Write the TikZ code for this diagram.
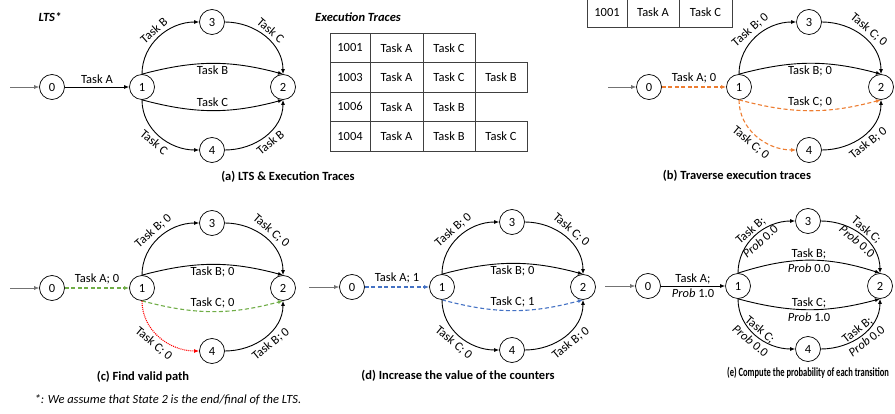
\documentclass[tikz,border=0pt]{standalone}
\usepackage{fontspec}
\setmainfont{Carlito}
\usetikzlibrary{arrows.meta}
\definecolor{traceorange}{HTML}{ED7D31}
\definecolor{validgreen}{HTML}{70AD47}
\definecolor{countblue}{HTML}{4472C4}
\newcommand{\labfont}{\fontsize{12.5}{15}\selectfont}

\begin{document}
\begin{tikzpicture}[x=1pt, y=1pt, font=\labfont,
        >={Latex[length=5pt, width=4pt]},
        state/.style={circle, draw, line width=0.7pt, minimum size=25pt, inner sep=0pt},
        trans/.style={line width=0.9pt},
        initarrow/.style={draw=black!55, line width=0.6pt},
        cell/.style={draw=black!75, line width=0.7pt, minimum height=29.5pt, inner sep=0pt},
        subcap/.style={font=\labfont\bfseries},
        tracepath/.style={trans, line width=1.1pt, draw=traceorange, dash pattern=on 4pt off 2.5pt},
        validpath/.style={trans, line width=1.1pt, draw=validgreen, dash pattern=on 4pt off 2.5pt},
        invalidpath/.style={trans, line width=1.1pt, draw=red, dash pattern=on 1pt off 1pt},
        countpath/.style={trans, line width=1.1pt, draw=countblue, dash pattern=on 4pt off 2.5pt}]
    \useasboundingbox (0, 0) rectangle (895, -414);

    % (a) LTS & Execution Traces
    \path (50, -17)   node[font=\labfont\bfseries\itshape] (lts) {LTS*};
    \path (358, -17)  node[font=\labfont\bfseries\itshape] (traces) {Execution Traces};
    \coordinate (ain) at (10, -87);
    \path (52, -87)   node[state] (a0) {0};
    \path (142, -87)  node[state] (a1) {1};
    \path (212, -22)  node[state] (a3) {3};
    \path (283, -87)  node[state] (a2) {2};
    \path (212, -150) node[state] (a4) {4};

    \draw[->, initarrow] (ain) -- (a0);
    \draw[->, trans] (a0) -- node[above] {Task A} (a1);
    \draw[->, trans] (a1.north) to[out=90, in=180] node[sloped, above] {Task B} (a3.west);
    \draw[->, trans] (a3.east) to[out=0, in=90] node[sloped, above] {Task C} (a2.north);
    \draw[->, trans] (a1.north) to[bend left=15] node[below, inner sep=1.5pt] {Task B} (a2.north);
    \draw[->, trans] (a1.south) to[bend right=15] node[above] {Task C} (a2.south);
    \draw[->, trans] (a1.south) to[out=-90, in=180] node[sloped, below] {Task C} (a4.west);
    \draw[->, trans] (a4.east) to[out=0, in=-90] node[sloped, below] {Task B} (a2.south);

    \path (350, -47.75)   node[cell, minimum width=40pt] (r1c1) {1001};
    \path (396.5, -47.75) node[cell, minimum width=53pt] (r1c2) {Task A};
    \path (449, -47.75)   node[cell, minimum width=52pt] (r1c3) {Task C};
    \path (350, -77.25)   node[cell, minimum width=40pt] (r2c1) {1003};
    \path (396.5, -77.25) node[cell, minimum width=53pt] (r2c2) {Task A};
    \path (449, -77.25)   node[cell, minimum width=52pt] (r2c3) {Task C};
    \path (501, -77.25)   node[cell, minimum width=52pt] (r2c4) {Task B};
    \path (350, -106.75)  node[cell, minimum width=40pt] (r3c1) {1006};
    \path (396.5, -106.75) node[cell, minimum width=53pt] (r3c2) {Task A};
    \path (449, -106.75)  node[cell, minimum width=52pt] (r3c3) {Task B};
    \path (350, -136.25)  node[cell, minimum width=40pt] (r4c1) {1004};
    \path (396.5, -136.25) node[cell, minimum width=53pt] (r4c2) {Task A};
    \path (449, -136.25)  node[cell, minimum width=52pt] (r4c3) {Task B};
    \path (501, -136.25)  node[cell, minimum width=52pt] (r4c4) {Task C};

    \path (288, -177) node[subcap] (capa) {(a) LTS \& Execution Traces};

    % (b) Traverse execution traces
    \path (607, -12.5)   node[cell, minimum width=40pt] (tb1) {1001};
    \path (653, -12.5)   node[cell, minimum width=52pt] (tb2) {Task A};
    \path (705.5, -12.5) node[cell, minimum width=53pt] (tb3) {Task C};
    \coordinate (bin) at (608, -87);
    \path (649, -87)  node[state] (b0) {0};
    \path (739, -87)  node[state] (b1) {1};
    \path (809, -22)  node[state] (b3) {3};
    \path (881, -87)  node[state] (b2) {2};
    \path (809, -150) node[state] (b4) {4};

    \draw[->, initarrow] (bin) -- (b0);
    \draw[->, tracepath] (b0) -- node[above] {Task A; 0} (b1);
    \draw[->, trans] (b1.north) to[out=90, in=180] node[sloped, above] {Task B; 0} (b3.west);
    \draw[->, trans] (b3.east) to[out=0, in=90] node[sloped, above] {Task C; 0} (b2.north);
    \draw[->, trans] (b1.north) to[bend left=15] node[below, inner sep=1.5pt] {Task B; 0} (b2.north);
    \draw[->, tracepath] (b1.south) to[bend right=15] node[above] {Task C; 0} (b2.south);
    \draw[->, tracepath] (b1.south) to[out=-90, in=180] node[sloped, below] {Task C; 0} (b4.west);
    \draw[->, trans] (b4.east) to[out=0, in=-90] node[sloped, below] {Task B; 0} (b2.south);

    \path (737, -176) node[subcap] (capb) {(b) Traverse execution traces};

    % (c) Find valid path
    \coordinate (cin) at (10, -288);
    \path (52, -288)  node[state] (c0) {0};
    \path (142, -288) node[state] (c1) {1};
    \path (212, -223) node[state] (c3) {3};
    \path (283, -288) node[state] (c2) {2};
    \path (212, -351) node[state] (c4) {4};

    \draw[->, initarrow] (cin) -- (c0);
    \draw[->, validpath] (c0) -- node[above] {Task A; 0} (c1);
    \draw[->, trans] (c1.north) to[out=90, in=180] node[sloped, above] {Task B; 0} (c3.west);
    \draw[->, trans] (c3.east) to[out=0, in=90] node[sloped, above] {Task C; 0} (c2.north);
    \draw[->, trans] (c1.north) to[bend left=15] node[below, inner sep=1.5pt] {Task B; 0} (c2.north);
    \draw[->, validpath] (c1.south) to[bend right=15] node[above] {Task C; 0} (c2.south);
    \draw[->, invalidpath] (c1.south) to[out=-90, in=180] node[sloped, below] {Task C; 0} (c4.west);
    \draw[->, trans] (c4.east) to[out=0, in=-90] node[sloped, below] {Task B; 0} (c2.south);

    \path (143, -377) node[subcap] (capc) {(c) Find valid path};

    % (d) Increase the value of the counters
    \coordinate (din) at (309, -287);
    \path (352, -287) node[state] (d0) {0};
    \path (442, -287) node[state] (d1) {1};
    \path (512, -222) node[state] (d3) {3};
    \path (583, -287) node[state] (d2) {2};
    \path (512, -350) node[state] (d4) {4};

    \draw[->, initarrow] (din) -- (d0);
    \draw[->, countpath] (d0) -- node[above] {Task A; 1} (d1);
    \draw[->, trans] (d1.north) to[out=90, in=180] node[sloped, above] {Task B; 0} (d3.west);
    \draw[->, trans] (d3.east) to[out=0, in=90] node[sloped, above] {Task C; 0} (d2.north);
    \draw[->, trans] (d1.north) to[bend left=15] node[below, inner sep=1.5pt] {Task B; 0} (d2.north);
    \draw[->, countpath] (d1.south) to[bend right=15] node[above] {Task C; 1} (d2.south);
    \draw[->, trans] (d1.south) to[out=-90, in=180] node[sloped, below] {Task C; 0} (d4.west);
    \draw[->, trans] (d4.east) to[out=0, in=-90] node[sloped, below] {Task B; 0} (d2.south);

    \path (458, -376) node[subcap] (capd) {(d) Increase the value of the counters};

    % (e) Compute the probability of each transition
    \coordinate (ein) at (605, -286);
    \path (648, -286) node[state] (e0) {0};
    \path (738, -286) node[state] (e1) {1};
    \path (808, -221) node[state] (e3) {3};
    \path (880, -286) node[state] (e2) {2};
    \path (808, -349) node[state] (e4) {4};

    \draw[->, initarrow] (ein) -- (e0);
    \draw[->, trans] (e0) -- node[align=center] {Task A;\\\textit{Prob} 1.0} (e1);
    \draw[->, trans] (e1.north) to[out=90, in=180] node[sloped, align=center] {Task B;\\\textit{Prob} 0.0} (e3.west);
    \draw[->, trans] (e3.east) to[out=0, in=90] node[sloped, align=center] {Task C;\\\textit{Prob} 0.0} (e2.north);
    \draw[->, trans] (e1.north) to[bend left=18] node[align=center] {Task B;\\\textit{Prob} 0.0} (e2.north);
    \draw[->, trans] (e1.south) to[bend right=15] node[align=center] {Task C;\\\textit{Prob} 1.0} (e2.south);
    \draw[->, trans] (e1.south) to[out=-90, in=180] node[sloped, align=center] {Task C;\\\textit{Prob} 0.0} (e4.west);
    \draw[->, trans] (e4.east) to[out=0, in=-90] node[sloped, align=center] {Task B;\\\textit{Prob} 0.0} (e2.south);

    \path (808, -373) node[subcap, xscale=0.68] (cape) {(e) Compute the probability of each transition};

    \path (31, -400) node[anchor=west, font=\labfont\itshape] (note) {*: We assume that State 2 is the end/final of the LTS.};
\end{tikzpicture}
\end{document}
